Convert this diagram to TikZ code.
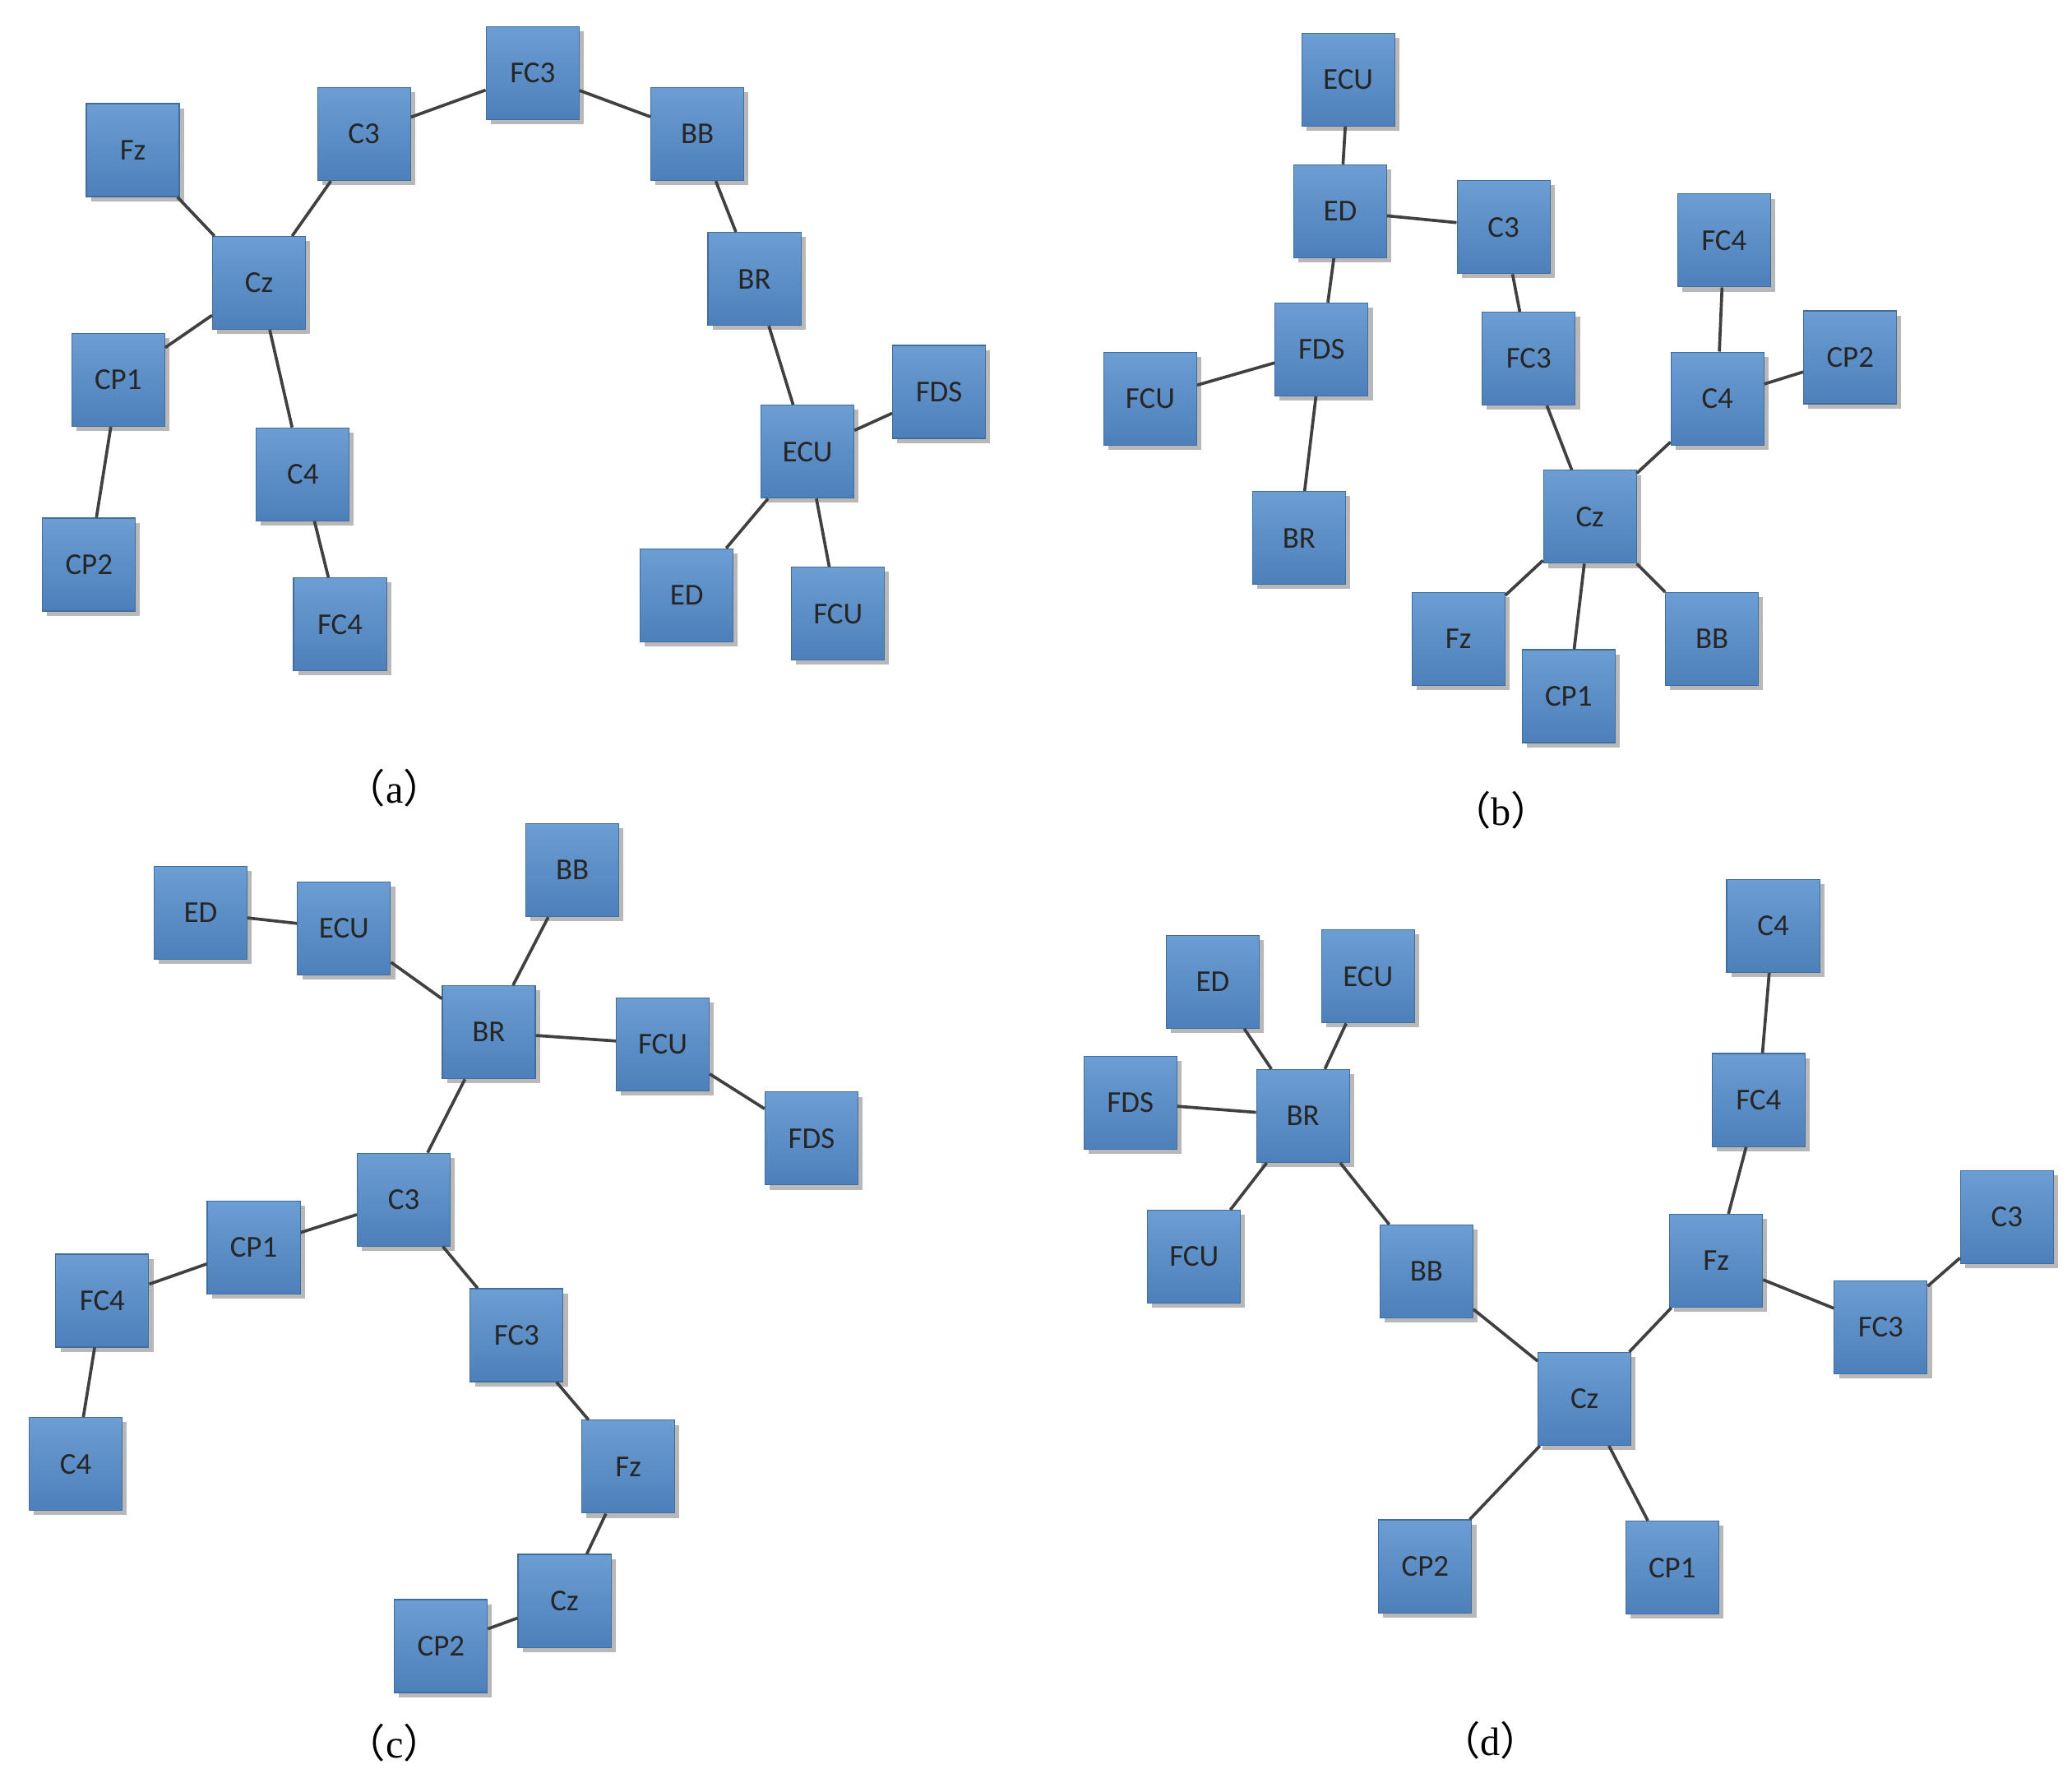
\documentclass[tikz,border=0pt]{standalone}
\usepackage{fontspec}
\setmainfont{Liberation Serif}
\newfontfamily\boxfont{Carlito}
\newfontfamily\cjk{Noto Sans CJK SC}
\usetikzlibrary{shadows}
\definecolor{btop}{HTML}{6C9DD3}
\definecolor{bbot}{HTML}{4D7FBA}
\definecolor{bedge}{HTML}{3F6E9E}
\tikzset{
  bx/.style={draw=bedge,line width=0.4pt,top color=btop,bottom color=bbot,minimum width=1.4cm,minimum height=1.4cm,inner sep=0pt,
    font=\boxfont\fontsize{13}{13}\selectfont,text=black!85,
    drop shadow={shadow xshift=0.07cm,shadow yshift=-0.07cm,fill=black!35,opacity=0.8}},
  ln/.style={draw=black!75,line width=1.3pt},
  lbl/.style={font=\fontsize{17}{17}\selectfont}
}
\begin{document}
\begin{tikzpicture}[x=0.02cm,y=-0.02cm]
\useasboundingbox (0,0) rectangle (1560,1331);
% (a)
\foreach \n/\x/\y in {Fz/100/113,C3/274/101,FC3/401/55,BB/525/101,Cz/195/213,BR/568/210,CP1/89/286,C4/228/357,FDS/707/295,ECU/608/340,CP2/67/425,FC4/256/470,ED/517/448,FCU/631/462}
  \node[bx] (a\n) at (\x,\y) {\n};
% (b)
\foreach \n/\x/\y in {ECU/1015/60,ED/1009/159,C3/1132/171,FC4/1298/181,FDS/995/263,FC3/1151/270,CP2/1393/269,FCU/866/300,C4/1293/300,Cz/1197/389,BR/978/405,Fz/1098/481,BB/1289/481,CP1/1181/524}
  \node[bx] (b\n) at (\x,\y) {\n};
% (c)
\foreach \n/\x/\y in {ED/151/687,ECU/259/699,BB/431/655,BR/368/777,FCU/499/786,FDS/611/857,C3/304/903,CP1/191/939,FC4/77/979,FC3/389/1005,C4/57/1102,Fz/473/1104,Cz/425/1205,CP2/332/1239}
  \node[bx] (c\n) at (\x,\y) {\n};
% (d)
\foreach \n/\x/\y in {ED/913/739,ECU/1030/735,C4/1335/697,FDS/851/830,BR/981/840,FC4/1324/828,C3/1511/916,FCU/899/946,BB/1074/957,Fz/1292/949,FC3/1416/999,Cz/1193/1053,CP2/1073/1179,CP1/1259/1180}
  \node[bx] (d\n) at (\x,\y) {\n};
\foreach \p/\q in {Fz/Cz,Cz/C3,C3/FC3,FC3/BB,BB/BR,BR/ECU,ECU/FDS,ECU/ED,ECU/FCU,Cz/CP1,CP1/CP2,Cz/C4,C4/FC4}
  \draw[ln] (a\p) -- (a\q);
\foreach \p/\q in {ECU/ED,ED/C3,ED/FDS,FDS/FCU,FDS/BR,C3/FC3,FC3/Cz,Cz/C4,C4/FC4,C4/CP2,Cz/Fz,Cz/CP1,Cz/BB}
  \draw[ln] (b\p) -- (b\q);
\foreach \p/\q in {ED/ECU,ECU/BR,BR/BB,BR/FCU,FCU/FDS,BR/C3,C3/CP1,CP1/FC4,FC4/C4,C3/FC3,FC3/Fz,Fz/Cz,Cz/CP2}
  \draw[ln] (c\p) -- (c\q);
\foreach \p/\q in {ED/BR,ECU/BR,FDS/BR,FCU/BR,BR/BB,BB/Cz,Cz/Fz,Fz/FC4,FC4/C4,Fz/FC3,FC3/C3,Cz/CP2,Cz/CP1}
  \draw[ln] (d\p) -- (d\q);
\node[lbl] (la) at (297,593) {{\cjk （}a{\cjk ）}};
\node[lbl] (lb) at (1130,610) {{\cjk （}b{\cjk ）}};
\node[lbl] (lc) at (297,1312) {{\cjk （}c{\cjk ）}};
\node[lbl] (ld) at (1122,1310) {{\cjk （}d{\cjk ）}};
\end{tikzpicture}
\end{document}
